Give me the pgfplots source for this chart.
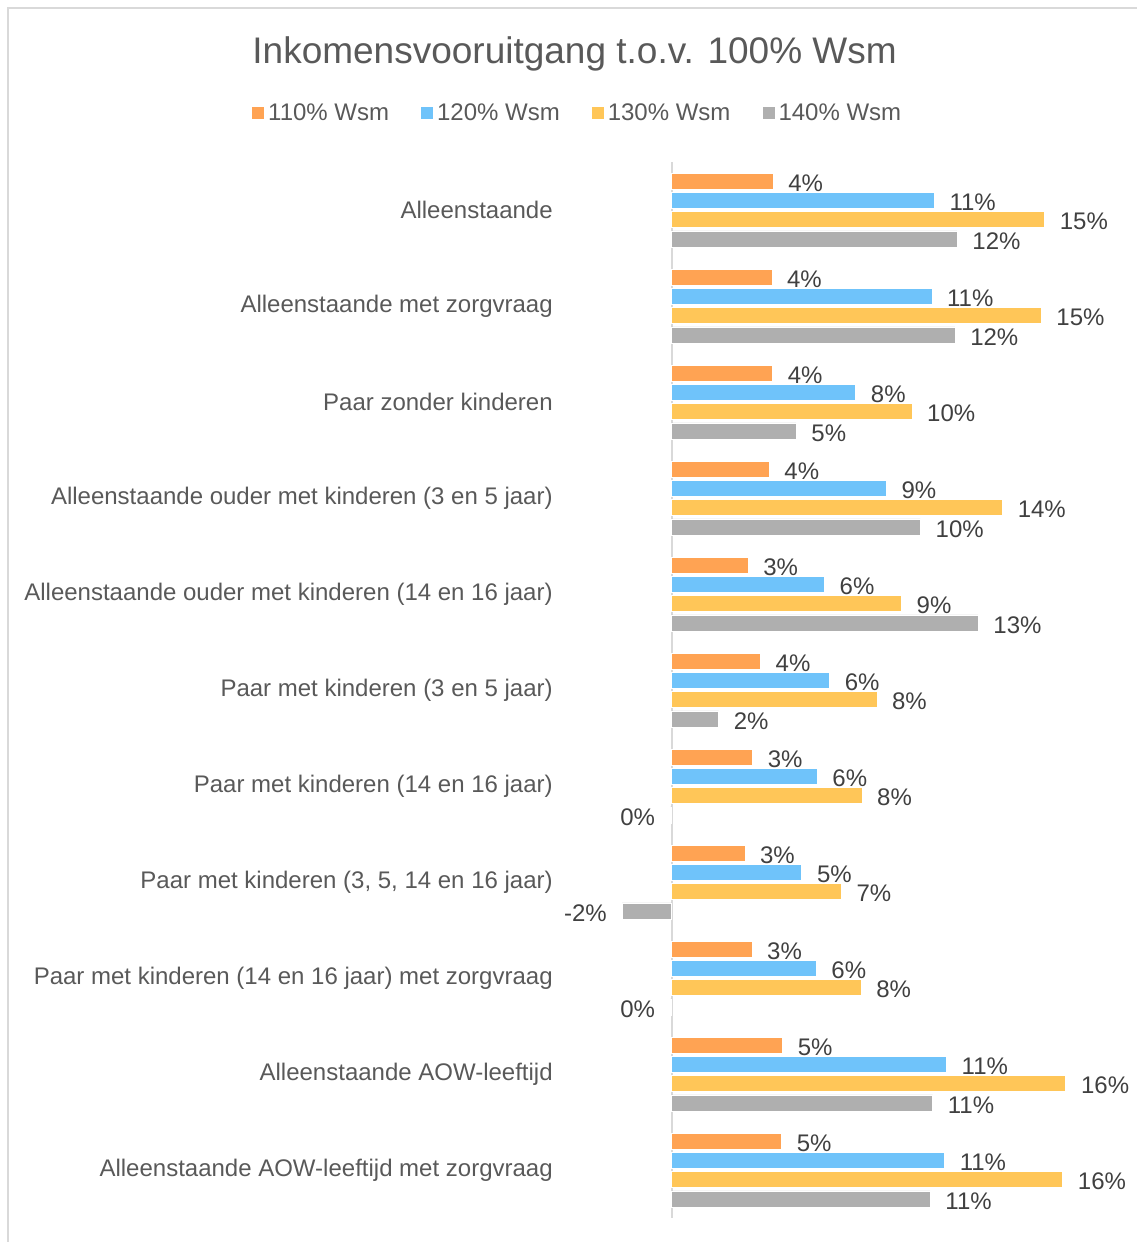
\documentclass[border=0pt]{standalone}
\usepackage{fontspec}
\setmainfont{Liberation Sans}
\usepackage{pgfplots}
\pgfplotsset{compat=1.18}
\definecolor{wOrange}{HTML}{FFA353}
\definecolor{wBlue}{HTML}{6FC3FA}
\definecolor{wYellow}{HTML}{FFC658}
\definecolor{wGrey}{HTML}{AFAFAF}
\definecolor{txtGrey}{HTML}{595959}
\definecolor{lblGrey}{HTML}{404040}
\definecolor{lineGrey}{HTML}{D9D9D9}

\begin{document}
\begin{tikzpicture}
% page: 1136 x 1242 px, 1 px = 0.5pt
\useasboundingbox (0,0) rectangle (568pt,-621pt);
\draw[lineGrey, line width=0.6pt] (4pt,-4pt) rectangle (580pt,-640pt);
\node[font=\fontsize{18.5}{22}\selectfont, text=txtGrey] at (287.3pt,-27pt)
  {Inkomensvooruitgang t.o.v. 100\% Wsm};
\begin{axis}[
  scale only axis,
  width=255.7pt, height=528pt,
  at={(287.05pt,-81pt)}, anchor=north west,
  xbar, bar width=8pt,
  xmin=-4, xmax=17,
  ymin=-0.5, ymax=10.5, y dir=reverse,
  xtick=\empty,
  ytick={0,...,10},
  yticklabels={Alleenstaande,Alleenstaande met zorgvraag,Paar zonder kinderen,
    Alleenstaande ouder met kinderen (3 en 5 jaar),
    Alleenstaande ouder met kinderen (14 en 16 jaar),
    Paar met kinderen (3 en 5 jaar),Paar met kinderen (14 en 16 jaar),
    {Paar met kinderen (3, 5, 14 en 16 jaar)},
    Paar met kinderen (14 en 16 jaar) met zorgvraag,
    Alleenstaande AOW-leeftijd,Alleenstaande AOW-leeftijd met zorgvraag},
  yticklabel style={font=\fontsize{12}{14}\selectfont, text=txtGrey,
    inner sep=0pt, xshift=-10.5pt},
  major tick length=0pt,
  axis line style={draw=none},
  clip=false,
  point meta=explicit symbolic,
  visualization depends on=rawx \as \rawx,
  nodes near coords={\pgfplotspointmeta},
  every node near coord/.append style={font=\fontsize{12}{14}\selectfont,
    text=lblGrey, inner xsep=7.5pt, yshift=-1pt,
    /utils/exec={\ifdim\rawx pt<0pt \def\nncanchor{east}\else\def\nncanchor{west}\fi},
    anchor=\nncanchor},
  legend columns=-1,
  legend style={draw=none, fill=none, at={(0.009,1.046)}, anchor=center,
    font=\fontsize{12}{14}\selectfont, text=txtGrey,
    /tikz/every odd column/.append style={column sep=0pt},
    /tikz/every even column/.append style={column sep=14pt}},
  legend image code/.code={\fill[#1,draw=none] (0pt,-3pt) rectangle (6pt,3pt);},
]
\draw[lineGrey, line width=1pt] (axis cs:0,-0.5) -- (axis cs:0,10.5);
\addplot[fill=wOrange, draw=white, line width=0.3pt, bar shift=14.475pt] coordinates {
  (4.17,0) [4\%] (4.12,1) [4\%] (4.15,2) [4\%] (4.01,3) [4\%] (3.14,4) [3\%]
  (3.65,5) [4\%] (3.33,6) [3\%] (3.01,7) [3\%] (3.30,8) [3\%] (4.56,9) [5\%]
  (4.52,10) [5\%]};
\addplot[fill=wBlue, draw=white, line width=0.3pt, bar shift=4.825pt] coordinates {
  (10.79,0) [11\%] (10.69,1) [11\%] (7.56,2) [8\%] (8.82,3) [9\%] (6.28,4) [6\%]
  (6.49,5) [6\%] (5.98,6) [6\%] (5.35,7) [5\%] (5.94,8) [6\%] (11.29,9) [11\%]
  (11.21,10) [11\%]};
\addplot[fill=wYellow, draw=white, line width=0.3pt, bar shift=-4.825pt] coordinates {
  (15.32,0) [15\%] (15.18,1) [15\%] (9.87,2) [10\%] (13.59,3) [14\%] (9.44,4) [9\%]
  (8.43,5) [8\%] (7.82,6) [8\%] (6.97,7) [7\%] (7.78,8) [8\%] (16.19,9) [16\%]
  (16.06,10) [16\%]};
\addplot[fill=wGrey, draw=white, line width=0.3pt, bar shift=-14.475pt] coordinates {
  (11.73,0) [12\%] (11.64,1) [12\%] (5.12,2) [5\%] (10.22,3) [10\%] (12.59,4) [13\%]
  (1.93,5) [2\%] (-0.05,6) [0\%] (-2.03,7) [-2\%] (-0.05,8) [0\%] (10.72,9) [11\%]
  (10.62,10) [11\%]};
\legend{110\% Wsm,120\% Wsm,130\% Wsm,140\% Wsm}
\end{axis}
\end{tikzpicture}
\end{document}
